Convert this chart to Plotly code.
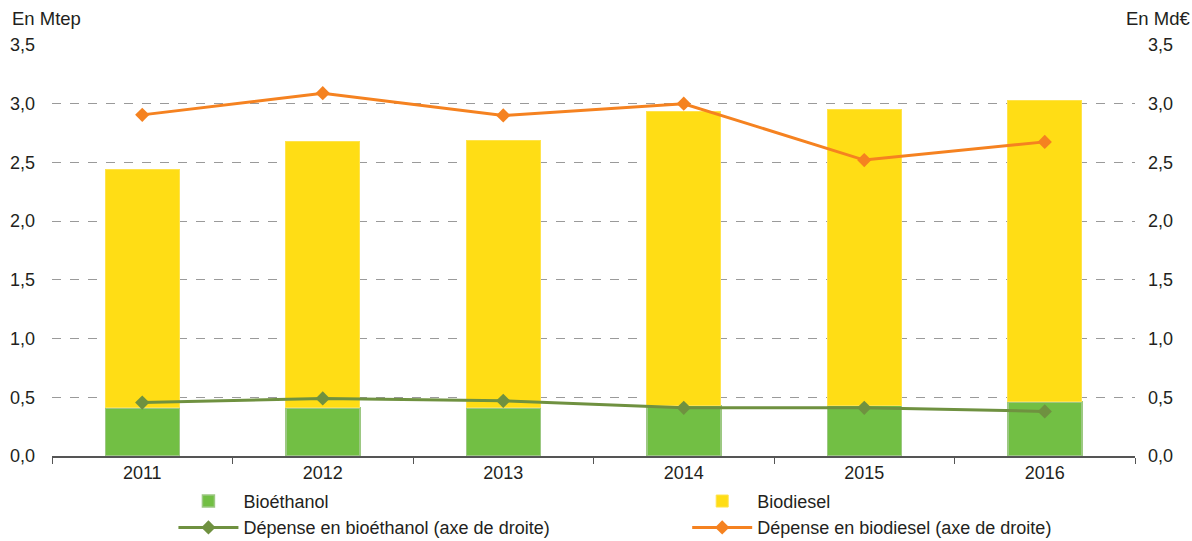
import plotly.graph_objects as go

years = ["2011", "2012", "2013", "2014", "2015", "2016"]
bioethanol = [0.41, 0.41, 0.41, 0.43, 0.43, 0.46]
biodiesel_total = [2.44, 2.675, 2.69, 2.93, 2.955, 3.03]
biodiesel = [round(t - b, 3) for t, b in zip(biodiesel_total, bioethanol)]
dep_bioethanol = [0.455, 0.49, 0.47, 0.41, 0.41, 0.38]
dep_biodiesel = [2.905, 3.09, 2.90, 3.00, 2.52, 2.675]
yticks = [0, 0.5, 1.0, 1.5, 2.0, 2.5, 3.0, 3.5]

FONT = "Liberation Sans, Arial, sans-serif"
TXT = "#231f20"
GREEN = "#72bf44"
YELLOW = "#ffdd15"
ORANGE = "#f58220"
DGREEN = "#6f9140"
FS = 18

fig = go.Figure()
fig.add_trace(go.Bar(x=years, y=bioethanol, name="Bioéthanol",
                     marker=dict(color=GREEN, line=dict(color="#9cc882", width=1.5)),
                     width=0.41, legend="legend", legendgroup="a"))
fig.add_trace(go.Bar(x=years, y=biodiesel, name="Biodiesel",
                     marker=dict(color=YELLOW, line=dict(color="#ffe34d", width=1)),
                     width=0.41, legend="legend2", legendgroup="b"))
fig.add_trace(go.Scatter(x=years, y=dep_bioethanol, name="Dépense en bioéthanol (axe de droite)",
                         mode="lines+markers", yaxis="y2",
                         line=dict(color=DGREEN, width=3),
                         marker=dict(symbol="diamond", size=11, color=DGREEN),
                         legend="legend", legendgroup="c"))
fig.add_trace(go.Scatter(x=years, y=dep_biodiesel, name="Dépense en biodiesel (axe de droite)",
                         mode="lines+markers", yaxis="y2",
                         line=dict(color=ORANGE, width=3),
                         marker=dict(symbol="diamond", size=11, color=ORANGE),
                         legend="legend2", legendgroup="d"))

legend_common = dict(orientation="v", yanchor="top", xanchor="left",
                     yref="container", y=0.1075, xref="container",
                     font=dict(family=FONT, size=18, color=TXT),
                     bgcolor="rgba(0,0,0,0)", itemwidth=60, tracegroupgap=0,
                     traceorder="grouped")

fig.update_layout(
    width=1192, height=541,
    margin=dict(l=52, r=57, t=45, b=85, autoexpand=False),
    barmode="stack",
    paper_bgcolor="white", plot_bgcolor="white",
    separators=", ",
    font=dict(family=FONT, size=FS, color=TXT),
    xaxis=dict(showgrid=False, showline=True, linecolor="#555555", linewidth=1.5,
               ticks="outside", tickson="boundaries", ticklen=6, tickcolor="#555555",
               tickfont=dict(family=FONT, size=FS, color=TXT)),
    yaxis=dict(range=[0, 3.5], tickvals=yticks, tickformat=".1f",
               showgrid=True, gridcolor="#9a9a9a", griddash="dash", gridwidth=1,
               zeroline=False, showline=False, ticks="", ticklabelstandoff=16,
               tickfont=dict(family=FONT, size=FS, color=TXT)),
    yaxis2=dict(range=[0, 3.5], tickvals=yticks, tickformat=".1f", overlaying="y",
                side="right", showgrid=False, zeroline=False, showline=False,
                ticks="", ticklabelstandoff=12,
                tickfont=dict(family=FONT, size=FS, color=TXT)),
    legend=dict(x=0.1455, **legend_common),
    legend2=dict(x=0.5765, **legend_common),
    showlegend=True,
    annotations=[
        dict(text="En Mtep", xref="paper", yref="paper", x=0, xshift=-42, y=1, yshift=27,
             xanchor="left", yanchor="middle", showarrow=False,
             font=dict(family=FONT, size=18.5, color=TXT)),
        dict(text="En Md€", xref="paper", yref="paper", x=1, xshift=57, y=1, yshift=27,
             xanchor="right", yanchor="middle", showarrow=False,
             font=dict(family=FONT, size=18.5, color=TXT)),
    ],
)

fig.write_html("out.html")
